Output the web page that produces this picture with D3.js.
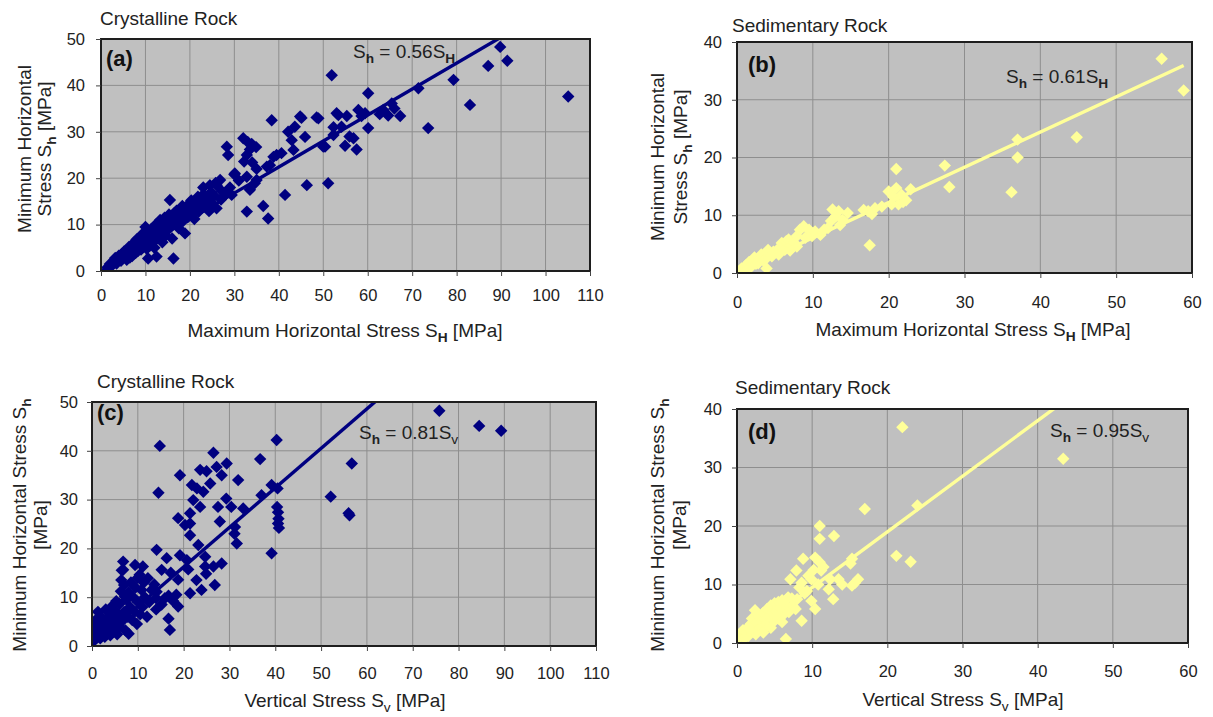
<!DOCTYPE html>
<html><head><meta charset="utf-8">
<script src="https://cdn.jsdelivr.net/npm/d3@7"></script>
<style>
body{margin:0;background:#fff}
svg{display:block;font-family:"Liberation Sans",Arial,sans-serif}
</style>
</head><body>
<svg id="chart" width="1213" height="717"></svg>
<script>
// ---------------- DATA ----------------
// (a) Crystalline rock: [Maximum horizontal stress SH, Minimum horizontal stress Sh] (MPa)
const crystallineHorizontal = [
[1.5,0.8],[2,1.5],[2.5,1.2],[3,2],[3.2,2.8],[3.5,1.6],[4,2.5],[4,3.3],[4.5,2.2],[4.8,3.8],
[5,2.8],[5.2,4.2],[5.5,3.1],[5.8,2.4],[6,4.5],[6,3.5],[6.3,5.2],[6.5,2.9],[6.8,4],[7,5.5],
[7,3.2],[7.3,4.8],[7.5,6.2],[7.8,3.9],[8,5],[8,6.8],[8.3,4.3],[8.5,5.8],[8.8,7.2],[9,4.6],
[9,6],[9.3,8],[9.5,5.2],[9.8,6.6],[10,9.5],[10,7.4],[10.3,4.8],[10.5,6.1],[10.6,2.7],[10.8,8.2],[11,5.5],
[11,7],[11.3,9],[11.5,6.3],[11.8,7.8],[12,5],[12,8.6],[12.3,10],[12.5,3.1],[12.5,6.9],[12.8,9.3],
[13,7.5],[13.3,11],[13.5,8.4],[13.8,6.2],[14,9.8],[14.3,11.5],[14.5,7.6],[14.8,10.5],[15,8.8],[15.3,12.2],
[15.5,15.3],[15.5,9.6],[15.8,11],[16,7],[16.3,2.7],[16.5,12.5],[16.8,10.2],[17,13],[17.3,11.5],[17.5,9.2],
[18,12],[18.3,14],[18.5,10.8],[18.9,8.1],[19,13.2],[19.5,11.6],[19.8,14.5],[20,12.5],[20.3,15.2],[20.8,13.5],
[21,11.2],[21.5,14.8],[21.8,16],[22,12.8],[22.5,15.5],[22.8,13.8],[23,16.5],[23,18],[23.5,14.2],[24,15.8],
[24.3,12.9],[24.5,18.5],[24.8,17],[25,14.6],[25.5,16.2],[25.8,19],[26,13.5],[26,18.5],[26.8,19.6],[27,15.4],
[27.2,17.2],[28,16.5],[28.3,26.8],[28.6,25],[29,18],[29.4,16.4],[30,20.8],[30.1,21],[31,19.5],[32,28.6],
[32.2,23.6],[32.8,25],[32.8,20.3],[32.8,12.8],[33,27.8],[33.5,26.2],[33.5,17.5],[33.9,27.4],[34,23.4],[34.6,18.9],
[34.9,26.7],[35,22],[35,19.6],[36.5,14],[37.3,22.5],[37.6,11.3],[38,22.8],[38.4,32.5],[38.8,24.6],[39.5,25],
[40.6,25.4],[41.4,16.4],[42.1,30],[42.9,28.2],[43.3,26.1],[43.6,31.1],[44.8,33.3],[45.1,33],[45.9,28.9],[46.3,18.5],
[48.5,33.1],[48.9,32.9],[50,26.8],[50.4,26.8],[51.1,18.9],[51.9,42.2],[52.3,29.3],[52.3,31],[53,34],[53.4,33.6],
[54.1,31.1],[54.9,27],[55.3,33.4],[55.9,29],[56.8,28.6],[57.5,26.2],[57.9,34.7],[58.6,33.4],[59.4,34],[60.1,30.8],
[60.1,38.3],[62.7,33.8],[63.5,34.7],[64.6,33.5],[65.4,36.1],[66,35],[67.3,33.4],[71.4,39.4],[73.6,30.8],[79.3,41.2],
[83,35.8],[87.1,44.2],[89.8,48.3],[91.4,45.3],[105.1,37.6]
];
// (b) Sedimentary rock: [SH, Sh] (MPa)
const sedimentaryHorizontal = [
[0.6,0.8],[1,0.5],[1.2,1.4],[1.6,1.9],[1.8,1],[2.1,2.3],[2.3,2.7],[2.5,1.6],[2.8,1.7],[3,2.4],
[3.2,3.2],[3.5,2.1],[3.6,2.2],[3.9,0.8],[4.1,4],[4.3,3.3],[4.6,2.9],[4.8,3.7],[5.3,4],[5.5,3.2],
[5.9,5.2],[6.1,4.4],[6.3,4],[6.5,5.5],[6.8,5.8],[7,3.9],[7.2,4.9],[7.5,5.3],[7.9,4.6],[7.9,6.4],
[8.3,7.5],[8.8,8.1],[9,6.1],[9.5,7.5],[9.9,6.4],[10.3,7.2],[11,6.6],[11.5,7.5],[12,7.8],[12.4,9],
[12.6,11],[13,9.8],[13.4,10.7],[13.6,8.3],[13.9,9.2],[14.6,10.4],[16.7,10.9],[17.3,10.7],[17.5,4.8],[17.8,10.2],
[18.2,11.2],[19.1,11.5],[20,14.1],[20.4,11.9],[20.6,13.2],[21,14.7],[21,18],[21.3,11.9],[21.7,13.5],[21.9,12.3],
[22.3,12.6],[22.9,14.5],[27.4,18.6],[28,14.9],[36.2,14],[37,23.1],[37,20],[44.8,23.5],[56,37.1],[58.9,31.6]
];
// (c) Crystalline rock: [Vertical stress Sv, Sh] (MPa)
const crystallineVertical = [
[0.3,4.2],[0.4,2.8],[0.5,1.2],[0.8,3.5],[1,5.5],[1,2],[1.3,7],[1.5,3],[1.6,4.8],[1.8,1.6],
[2,2.5],[2,6],[2.3,3.8],[2.5,5.2],[2.8,1.9],[3,4.2],[3,7.5],[3.3,2.8],[3.5,5.8],[3.8,3.4],
[4,6.6],[4,2.2],[4.3,8.1],[4.5,4.6],[4.8,3],[5,7.2],[5,5.4],[5.3,9.2],[5.5,2.4],[5.8,6.2],
[6,4],[6,8.6],[6.3,11.2],[6.4,13.5],[6.5,5],[6.5,15.5],[6.8,17.3],[6.8,15.6],[7,7],[7,12.5],
[7.2,10.1],[7.3,3.2],[7.5,9.5],[7.8,6],[8,11],[8,2.5],[8.3,8],[8.5,13],[8.8,5.3],[9,10],
[9.3,7],[9.4,16.6],[9.5,12],[9.8,4.5],[10,9],[10,14],[10.4,14.6],[10.5,6.5],[10.8,11.5],[11,8],
[11.1,16.3],[11.3,13],[11.5,10],[12,6],[12.2,13.9],[12.5,9],[13,11.5],[13.6,12.6],[14,7.5],[14,9.8],
[14.1,19.7],[14.1,11.1],[14.5,31.4],[14.8,41],[15.2,15.6],[15.2,8.5],[15.9,9.8],[16.3,18],[16.7,10.3],[16.7,5.6],
[17,3.3],[17.2,15],[17.7,9.2],[18.4,10.5],[18.8,13.6],[18.8,8.1],[18.8,26.2],[19.2,18.6],[19.2,35],[20.3,24.8],
[20.7,17.6],[21,15.7],[21.4,10.8],[21.4,22.7],[21.4,25.1],[21.4,27.2],[21.8,33],[22.1,29.9],[22.8,13.5],[22.9,32.3],
[23.2,20.7],[23.6,28.5],[23.6,36.1],[23.9,11.5],[24.3,31.6],[24.7,18.3],[24.7,16.3],[24.9,14.8],[25,35.8],[25.8,33.3],
[26.5,39.6],[26.5,16.3],[26.8,12.5],[27.2,36.7],[27.5,28.5],[27.9,25.5],[28.3,35],[28.3,16.9],[29.3,30.2],[29.4,37.4],
[30.4,28.5],[31.1,23],[31.2,24.4],[31.6,21],[31.9,34],[33,28.2],[36.7,38.3],[37,30.9],[39.2,33],[39.2,19],
[40.3,42.2],[40.4,28.5],[40.5,32.3],[40.6,27.4],[40.7,26.1],[40.6,25.1],[40.8,24.2],[52.1,30.6],[56,27.2],[56.2,26.8],
[56.7,37.4],[75.8,48.2],[84.5,45.1],[89.3,44.1]
];
// (d) Sedimentary rock: [Sv, Sh] (MPa)
const sedimentaryVertical = [
[0.3,1.2],[0.6,1.5],[0.8,2.2],[1,0.8],[1.2,1.8],[1.5,2.7],[1.5,1.2],[1.8,3.2],[2,2],[2,4.2],
[2.3,2.9],[2.4,5.6],[2.5,1.5],[2.7,3.5],[3,2.5],[3,4.5],[3.3,3.6],[3.5,5.2],[3.5,1.8],[3.8,4],
[4,3],[4,5.8],[4.2,4.6],[4.5,6.4],[4.5,2.6],[4.8,5],[5,3.8],[5,6.8],[5.3,5.5],[5.5,7],
[5.5,4.2],[5.8,6],[6,3.6],[6,7.3],[6.3,5],[6.5,0.7],[6.5,6.5],[6.8,7.8],[6.9,5.3],[7.1,10.9],
[7.3,7.6],[7.5,6.2],[7.8,5.8],[7.9,12.4],[8,7.5],[8.3,9.5],[8.6,3.8],[8.6,10.3],[8.8,14.4],[9,8.5],
[9.3,8.9],[9.5,11.5],[9.9,7.2],[9.9,10.9],[10.2,12.5],[10.4,5.8],[10.4,14.6],[10.8,10],[11,13.8],[11,17.8],
[11,20],[11.2,12.4],[11.5,13],[12.2,9.2],[12.4,10.9],[12.8,7.5],[12.9,18.3],[13.5,10.9],[14,10],[15.1,13.6],
[15.3,14.4],[15.3,9.8],[15.7,10.3],[16.1,10.9],[17,22.9],[21.2,14.9],[22,36.9],[23.1,13.9],[24,23.5],[43.4,31.5]
];
// Linear fits through the origin  Sh = k * S
const fitSlopes = [0.56, 0.61, 0.81, 0.95];
const fitLabels = ["0.56", "0.61", "0.81", "0.95"];
const fitSubscripts = ["H", "H", "v", "v"];
// Axis ticks
const xTicksCrystalline = [0,10,20,30,40,50,60,70,80,90,100,110];
const yTicksCrystalline = [0,10,20,30,40,50];
const xTicksSedimentary = [0,10,20,30,40,50,60];
const yTicksSedimentary = [0,10,20,30,40];
// Text
const panelTitles = ["Crystalline Rock", "Sedimentary Rock", "Crystalline Rock", "Sedimentary Rock"];
const panelLetters = ["(a)", "(b)", "(c)", "(d)"];

// ---------------- LAYOUT ----------------
const navy = "#000080", pale = "#ffff99";
const layout = [
  {data: crystallineHorizontal, color: navy, xt: xTicksCrystalline, yt: yTicksCrystalline,
   l:101, t:39, r:590, b:271, xPad:13, yPad:11,
   title:[100,25], letter:[106,66], eq:[353,58], xTitle:[345,337],
   xTitleParts:[["Maximum Horizontal Stress S"],["H","sub"],[" [MPa]"]],
   yLines:[[31,[["Minimum Horizontal"]]],[51,[["Stress S"],["h","sub"],[" [MPa]"]]]], yCenter:149},
  {data: sedimentaryHorizontal, color: pale, xt: xTicksSedimentary, yt: yTicksSedimentary,
   l:737, t:42, r:1192, b:273, xPad:18, yPad:10,
   title:[732,32], letter:[748,72], eq:[1006,83], xTitle:[973,336],
   xTitleParts:[["Maximum Horizontal Stress S"],["H","sub"],[" [MPa]"]],
   yLines:[[664,[["Minimum Horizontal"]]],[687,[["Stress S"],["h","sub"],[" [MPa]"]]]], yCenter:157},
  {data: crystallineVertical, color: navy, xt: xTicksCrystalline, yt: yTicksCrystalline,
   l:92, t:402, r:596, b:646, xPad:16, yPad:9,
   title:[97,388], letter:[97,420], eq:[359,439], xTitle:[345,707],
   xTitleParts:[["Vertical Stress S"],["v","subn"],[" [MPa]"]],
   yLines:[[26,[["Minimum Horizontal Stress S"],["h","sub"]]],[47,[["[MPa]"]]]], yCenter:525},
  {data: sedimentaryVertical, color: pale, xt: xTicksSedimentary, yt: yTicksSedimentary,
   l:737, t:409, r:1188, b:643, xPad:17, yPad:10,
   title:[735,394], letter:[748,439], eq:[1050,437], xTitle:[963,706],
   xTitleParts:[["Vertical Stress S"],["v","subn"],[" [MPa]"]],
   yLines:[[664,[["Minimum Horizontal Stress S"],["h","sub"]]],[686,[["[MPa]"]]]], yCenter:525}
];

const svg = d3.select("#chart");
const TXT = "#222", FS = 19, TICKFS = 16.5;

function rich(sel, parts, fs) {
  let shifted = false;
  parts.forEach(p => {
    const ts = sel.append("tspan").text(p[0]);
    if (p[1] === "sub" || p[1] === "subn") {
      ts.attr("font-size", fs * 0.72).attr("dy", fs * 0.28);
      if (p[1] === "sub") ts.attr("font-weight", "bold");
      shifted = true;
    } else if (shifted) {
      ts.attr("dy", -fs * 0.28);
      shifted = false;
    }
  });
}

const diamond = r => `M0,${-r}L${r},0L0,${r}L${-r},0Z`;

layout.forEach((P, i) => {
  const x = d3.scaleLinear().domain([P.xt[0], P.xt[P.xt.length-1]]).range([P.l, P.r]);
  const y = d3.scaleLinear().domain([P.yt[0], P.yt[P.yt.length-1]]).range([P.b, P.t]);
  const g = svg.append("g");

  g.append("rect").attr("x", P.l).attr("y", P.t).attr("width", P.r-P.l).attr("height", P.b-P.t)
    .attr("fill", "#c0c0c0");
  // grid
  g.append("g").selectAll("line").data(P.xt).join("line")
    .attr("x1", d => x(d)).attr("x2", d => x(d)).attr("y1", P.t).attr("y2", P.b)
    .attr("stroke", "#8e8e8e").attr("stroke-width", 1);
  g.append("g").selectAll("line").data(P.yt).join("line")
    .attr("y1", d => y(d)).attr("y2", d => y(d)).attr("x1", P.l).attr("x2", P.r)
    .attr("stroke", "#8e8e8e").attr("stroke-width", 1);

  const clipId = "clip" + i;
  svg.append("clipPath").attr("id", clipId).append("rect")
    .attr("x", P.l).attr("y", P.t).attr("width", P.r-P.l).attr("height", P.b-P.t);

  const plot = g.append("g").attr("clip-path", `url(#${clipId})`);
  plot.selectAll("path.pt").data(P.data).join("path").attr("class", "pt")
    .attr("transform", d => `translate(${x(d[0])},${y(d[1])})`)
    .attr("d", diamond(6.2)).attr("fill", P.color);

  const xMax = d3.max(P.data, d => d[0]);
  const k = fitSlopes[i];
  plot.append("path").datum([[0, 0], [xMax, k * xMax]])
    .attr("d", d3.line().x(d => x(d[0])).y(d => y(d[1])))
    .attr("stroke", P.color).attr("stroke-width", 3.4).attr("fill", "none");

  g.append("rect").attr("x", P.l).attr("y", P.t).attr("width", P.r-P.l).attr("height", P.b-P.t)
    .attr("fill", "none").attr("stroke", "#1e1e1e").attr("stroke-width", 2);

  // axes
  const ax = g.append("g").attr("transform", `translate(0,${P.b})`)
    .call(d3.axisBottom(x).tickValues(P.xt).tickSize(5).tickPadding(P.xPad).tickFormat(d3.format("d")));
  const ay = g.append("g").attr("transform", `translate(${P.l},0)`)
    .call(d3.axisLeft(y).tickValues(P.yt).tickSize(5).tickPadding(P.yPad).tickFormat(d3.format("d")));
  [ax, ay].forEach(a => {
    a.attr("font-size", TICKFS).attr("font-family", '"Liberation Sans",Arial,sans-serif');
    a.select(".domain").remove();
    a.selectAll("line").attr("stroke", "#444");
    a.selectAll("text").attr("fill", TXT).style("font-size", TICKFS + "px");
  });

  // panel title
  g.append("text").attr("x", P.title[0]).attr("y", P.title[1]).attr("font-size", FS)
    .attr("fill", TXT).text(panelTitles[i]);
  // letter
  g.append("text").attr("x", P.letter[0]).attr("y", P.letter[1]).attr("font-size", 22)
    .attr("font-weight", "bold").attr("fill", "#111").text(panelLetters[i]);
  // equation
  const eq = g.append("text").attr("x", P.eq[0]).attr("y", P.eq[1]).attr("font-size", FS).attr("fill", TXT);
  rich(eq, [["S"], ["h", "sub"], [" = " + fitLabels[i] + "S"], [fitSubscripts[i], fitSubscripts[i] === "H" ? "sub" : "subn"]], FS);
  // x title
  const xt = g.append("text").attr("x", P.xTitle[0]).attr("y", P.xTitle[1]).attr("font-size", FS)
    .attr("fill", TXT).attr("text-anchor", "middle");
  rich(xt, P.xTitleParts, FS);
  // y title
  P.yLines.forEach(([bx, parts]) => {
    const t = g.append("text").attr("transform", `translate(${bx},${P.yCenter}) rotate(-90)`)
      .attr("font-size", FS).attr("fill", TXT).attr("text-anchor", "middle");
    rich(t, parts, FS);
  });
});
</script>
</body></html>
